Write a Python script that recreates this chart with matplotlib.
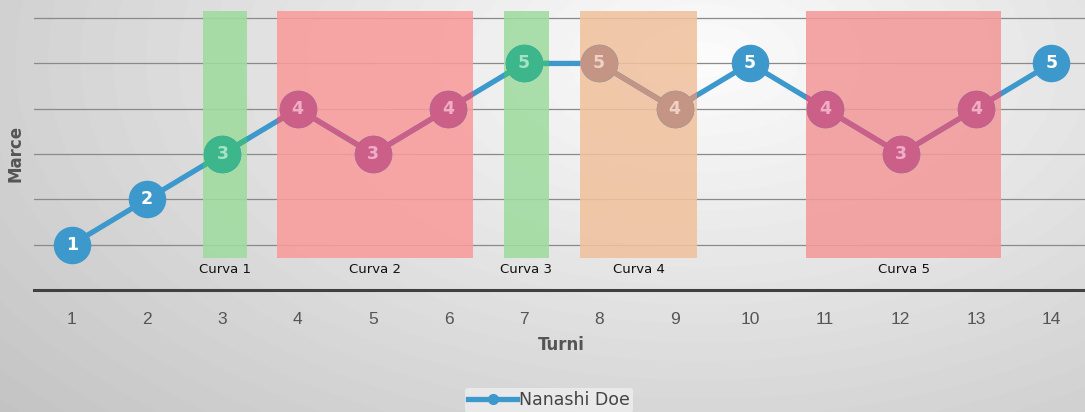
import numpy as np
import matplotlib
matplotlib.use("Agg")
import matplotlib.pyplot as plt
from matplotlib.patches import Rectangle
from matplotlib.lines import Line2D

# data
turni = list(range(1, 15))
marce = [1, 2, 3, 4, 3, 4, 5, 5, 4, 5, 4, 3, 4, 5]

curve_names = ["Curva 1", "Curva 2", "Curva 3", "Curva 4", "Curva 5"]
curve_start = [2.74, 3.73, 6.74, 7.75, 10.75]
curve_end = [3.32, 6.32, 7.33, 9.30, 13.33]
curve_fill = ["#9fdb9f", "#f99b9b", "#9fdb9f", "#f0c29e", "#f39a9a"]
curve_mark = ["#3cb68a", "#cc5f88", "#3cb68a", "#c49484", "#cc5f88"]
curve_text = ["#a6e2c6", "#f0aec4", "#a6e2c6", "#f0d2c4", "#f0aec4"]
band_low, band_high = 0.7, 6.15

blue = "#3d98cc"

fig = plt.figure(figsize=(10.85, 4.12), dpi=100)

# radial-ish gray background
bg = fig.add_axes([0, 0, 1, 1], zorder=-10)
yy, xx = np.mgrid[0:412, 0:1085]
d = np.sqrt(((xx - 700) / 900.0) ** 2 + ((yy - 60) / 520.0) ** 2)
shade = np.clip(252 - 55 * d, 195, 252) / 255.0
bg.imshow(shade, cmap="gray", vmin=0, vmax=1, aspect="auto", extent=(0, 1, 0, 1))
bg.axis("off")

ax = fig.add_axes([34 / 1085, 122 / 412, 1055 / 1085, 290 / 412])
ax.patch.set_alpha(0)
ax.set_xlim(0.5, 14.5)
ax.set_ylim(0, 6.4)

for s in ["top", "right", "left"]:
    ax.spines[s].set_visible(False)
ax.spines["bottom"].set_color("#404040")
ax.spines["bottom"].set_linewidth(2.2)

ax.set_yticks([1, 2, 3, 4, 5, 6])
ax.set_yticklabels([])
ax.tick_params(axis="y", length=0)
ax.yaxis.grid(True, color="#8a8a8a", linewidth=0.9)
ax.set_axisbelow(True)

ax.set_xticks(turni)
ax.set_xticklabels([str(t) for t in turni], fontsize=12.5, color="#555555",
                   fontfamily="Liberation Sans")
ax.tick_params(axis="x", length=0, pad=16)

ax.set_xlabel("Turni", fontsize=12, fontweight="bold", color="#555555", labelpad=6)
ax.set_ylabel("Marce", fontsize=12, fontweight="bold", color="#555555")
ax.yaxis.set_label_coords(-0.009, 0.47)

# bands
rects = []
for i in range(len(curve_names)):
    r = Rectangle((curve_start[i], band_low), curve_end[i] - curve_start[i],
                  band_high - band_low, facecolor=curve_fill[i], alpha=0.88,
                  edgecolor="none", zorder=1)
    ax.add_patch(r)
    rects.append(r)
    ax.text((curve_start[i] + curve_end[i]) / 2, 0.45, curve_names[i],
            ha="center", va="center", fontsize=9.5, color="#111111")

# main line
ax.plot(turni, marce, color=blue, linewidth=3.8, marker="o",
        markersize=26, markerfacecolor=blue, markeredgecolor=blue, zorder=3)

# tinted copy of the line inside each band
for i in range(len(curve_names)):
    ln, = ax.plot(turni, marce, color=curve_mark[i], linewidth=3.8, marker="o",
                  markersize=26, markerfacecolor=curve_mark[i],
                  markeredgecolor=curve_mark[i], zorder=4)
    ln.set_clip_path(rects[i])

# value labels
for x, y in zip(turni, marce):
    c = "white"
    for i in range(len(curve_names)):
        if curve_start[i] <= x <= curve_end[i]:
            c = curve_text[i]
    ax.text(x, y, str(y), ha="center", va="center", fontsize=12.5,
            fontweight="bold", color=c, zorder=5)

handle = Line2D([], [], color=blue, linewidth=3.8, marker="o", markersize=7)
leg = fig.legend([handle], ["Nanashi Doe"], loc="center", bbox_to_anchor=(0.506, 0.028),
                 frameon=True, fontsize=12.5, handlelength=2.8, handletextpad=0.1,
                 borderpad=0.2)
leg.get_frame().set_facecolor("#eeeeee")
leg.get_frame().set_edgecolor("none")
leg.get_frame().set_alpha(0.8)
leg.get_texts()[0].set_color("#444444")

fig.savefig("out.png", dpi=100)
